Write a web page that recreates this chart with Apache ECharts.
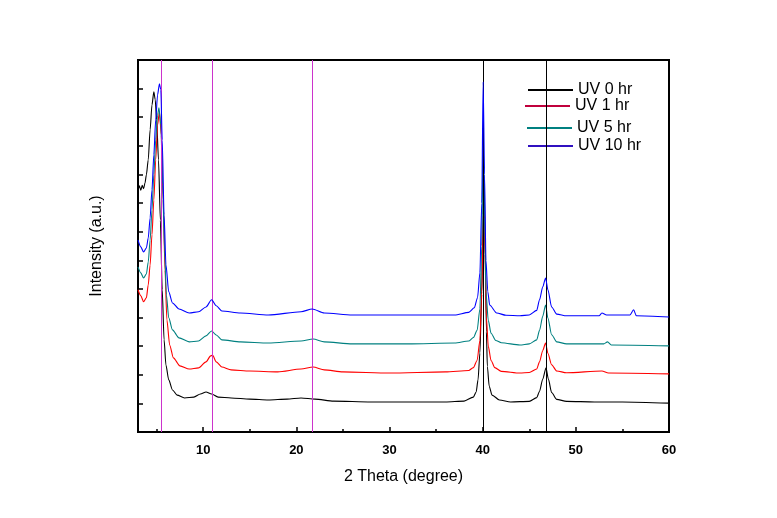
<!DOCTYPE html>
<html>
<head>
<meta charset="utf-8">
<script src="https://cdn.jsdelivr.net/npm/echarts@6/dist/echarts.min.js"></script>
<style>html,body{margin:0;padding:0;background:#fff}#c{width:777px;height:518px}</style>
</head>
<body>
<div id="c"></div>
<script>
// ---- data (2θ in degrees, intensity in arbitrary units) ----
const seriesNames = ['UV 0 hr', 'UV 1 hr', 'UV 5 hr', 'UV 10 hr'];
const seriesColors = ['#000000', '#ff0000', '#008080', '#0000ff'];
const xTickLabels = [10, 20, 30, 40, 50, 60];
const xMinorTicks = [5, 15, 25, 35, 45, 55];
const refLinesPink = [5.5, 11.0, 21.75];
const refLinesBlack = [40.05, 46.8];

const uv0 = [
  [3.0,8.46],[3.15,8.60],[3.3,8.45],[3.45,8.62],[3.6,8.50],[3.75,8.70],[3.9,8.99],[4.1,9.51],[4.3,10.56],[4.5,11.43],[4.7,11.89],
  [4.85,11.61],[5.0,10.91],[5.2,9.51],[5.4,7.41],[5.6,4.97],[5.8,3.22],[6.0,2.34],[6.3,1.82],[6.7,1.47],
  [7.2,1.29],[8.0,1.19],[9.0,1.22],[9.7,1.33],[10.3,1.40],[10.9,1.33],[11.6,1.22],[13,1.19],[15,1.15],
  [17,1.12],[19,1.15],[20.5,1.19],[22,1.15],[24,1.08],[28,1.05],[32,1.05],[36,1.05],[38,1.08],
  [39.0,1.22],[39.3,1.40],[39.5,1.82],[39.7,2.76],[39.9,4.8],[40.05,7.6],[40.15,8.81],[40.25,7.0],[40.4,3.5],
  [40.5,2.3],[40.7,1.6],[41.0,1.29],[41.8,1.12],[43,1.05],
  [45.0,1.07],[45.8,1.20],[46.1,1.42],[46.45,1.85],[46.8,2.24],[47.05,1.85],[47.4,1.38],[47.95,1.14],[49,1.07],
  [52,1.05],[55,1.05],[60,1.01]
];
const uv1 = [
  [3.0,4.97],[3.3,4.76],[3.6,4.55],[3.9,4.69],[4.1,5.14],[4.3,5.84],[4.5,6.89],[4.7,8.11],[4.9,9.51],[5.1,10.73],
  [5.3,11.19],[5.5,10.38],[5.7,8.11],[5.9,5.66],[6.1,3.92],[6.4,3.04],[6.8,2.59],[7.5,2.31],[8.5,2.20],[9.5,2.24],
  [10.3,2.45],[10.8,2.66],[11.0,2.69],[11.4,2.45],[12,2.27],[13,2.17],[15,2.13],[18,2.10],[20.5,2.20],[21.8,2.27],
  [23,2.17],[25,2.10],[30,2.06],[36,2.10],[38.5,2.15],[39.0,2.25],[39.4,2.50],[39.7,3.20],[39.9,4.90],[40.1,7.94],
  [40.25,6.20],[40.4,4.00],[40.6,3.00],[40.9,2.50],[41.3,2.25],[42,2.12],[44,2.06],
  [45.0,2.08],[45.8,2.20],[46.1,2.45],[46.45,2.85],[46.75,3.11],[47.0,2.75],[47.4,2.35],[47.95,2.13],[49,2.07],
  [52.8,2.13],[53.5,2.06],[60,2.03]
];
const uv5 = [
  [3.0,5.77],[3.3,5.56],[3.6,5.38],[3.9,5.52],[4.1,5.94],[4.3,6.71],[4.5,7.76],[4.7,8.99],[4.9,10.21],[5.1,11.08],
  [5.25,11.33],[5.45,10.73],[5.65,8.64],[5.85,6.36],[6.05,4.79],[6.3,3.99],[6.7,3.57],[7.4,3.29],[8.5,3.15],[9.5,3.18],
  [10.3,3.36],[10.9,3.53],[11.4,3.39],[12,3.22],[14,3.15],[17,3.11],[20.5,3.18],[21.8,3.25],[23,3.15],[26,3.08],
  [32,3.08],[37,3.11],[38.5,3.18],[39.0,3.30],[39.4,3.55],[39.7,4.30],[39.9,6.50],[40.05,10.31],[40.2,7.50],
  [40.35,4.90],[40.6,3.90],[40.9,3.45],[41.4,3.20],[42,3.12],[44,3.04],
  [45.0,3.08],[45.8,3.22],[46.1,3.55],[46.45,4.05],[46.75,4.44],[47.0,3.98],[47.4,3.40],[47.95,3.15],[49,3.08],
  [53.0,3.08],[53.4,3.15],[53.8,3.04],[60,3.01]
];
const uv10 = [
  [3.0,6.71],[3.3,6.47],[3.6,6.29],[3.9,6.43],[4.1,6.78],[4.3,7.48],[4.5,8.46],[4.7,9.69],[4.9,10.91],[5.1,11.78],
  [5.3,12.17],[5.45,11.96],[5.6,10.21],[5.8,7.59],[6.0,5.84],[6.3,4.90],[6.7,4.51],[7.4,4.30],[8.5,4.16],[9.5,4.20],
  [10.3,4.37],[10.9,4.62],[11.4,4.41],[12,4.23],[14,4.16],[17,4.09],[20.5,4.20],[21.7,4.30],[23,4.16],[26,4.09],
  [32,4.09],[37,4.09],[38.5,4.18],[39.1,4.34],[39.45,4.70],[39.7,5.56],[39.9,8.00],[40.05,12.24],[40.2,9.00],
  [40.35,6.00],[40.55,4.90],[40.75,4.44],[41.5,4.16],[42.5,4.08],[44,4.06],
  [45.0,4.09],[45.8,4.25],[46.1,4.62],[46.45,5.07],[46.75,5.38],[47.0,4.97],[47.4,4.37],[47.95,4.12],[49,4.06],
  [52.5,4.06],[52.8,4.16],[53.3,4.09],[55.8,4.09],[56.2,4.27],[56.5,4.06],[60,4.02]
];
const allData = [uv0, uv1, uv5, uv10];

// ---- chart ----
const FONT = 'Arial, "Liberation Sans", sans-serif';
const chart = echarts.init(document.getElementById('c'), null, {renderer: 'canvas'});

const legendRows = [
  {left: 528, top: 82, color: '#000000'},
  {left: 525, top: 98, color: '#c0003c'},
  {left: 527, top: 120, color: '#008080'},
  {left: 528, top: 138, color: '#3010c0'}
];

const series = allData.map((d, i) => ({
  name: seriesNames[i],
  type: 'line',
  data: d,
  showSymbol: false,
  symbol: 'none',
  smooth: 0.25,
  smoothMonotone: 'x',
  lineStyle: {width: 1.1, color: seriesColors[i]},
  itemStyle: {color: seriesColors[i]},
  z: 2 + i
}));
series[3].markLine = {
  silent: true,
  symbol: ['none', 'none'],
  label: {show: false},
  animation: false,
  data: refLinesPink.map(v => ({xAxis: v, lineStyle: {color: '#cc33cc', width: 1, type: 'solid'}}))
    .concat(refLinesBlack.map(v => ({xAxis: v, lineStyle: {color: '#000000', width: 1, type: 'solid'}})))
};

chart.setOption({
  animation: false,
  backgroundColor: '#ffffff',
  grid: {left: 138, right: 108, top: 60, bottom: 86, show: true, borderColor: '#000', borderWidth: 2},
  legend: legendRows.map((r, i) => ({
    data: [{name: seriesNames[i], itemStyle: {color: r.color}}],
    left: r.left, top: r.top, padding: 0,
    itemWidth: 45, itemHeight: 2, icon: 'rect',
    textStyle: {fontFamily: FONT, fontSize: 16, color: '#000'},
    selectedMode: false
  })),
  xAxis: [{
    type: 'value', min: 3, max: 60,
    axisLine: {show: true, lineStyle: {color: '#000', width: 2}},
    axisTick: {show: true, inside: true, length: 5, customValues: xTickLabels, lineStyle: {color: '#000', width: 1.5}},
    axisLabel: {show: true, customValues: xTickLabels, fontFamily: FONT, fontSize: 13, fontWeight: 'bold', color: '#000', margin: 12},
    splitLine: {show: false},
    name: '2 Theta (degree)', nameLocation: 'middle', nameGap: 37,
    nameTextStyle: {fontFamily: FONT, fontSize: 16, color: '#000'}
  }, {
    type: 'value', min: 3, max: 60, position: 'bottom',
    axisLine: {show: false},
    axisTick: {show: true, inside: true, length: 3, customValues: xMinorTicks, lineStyle: {color: '#000', width: 1.5}},
    axisLabel: {show: false},
    splitLine: {show: false}
  }],
  yAxis: {
    type: 'value', min: 0, max: 13, interval: 1,
    axisLine: {show: true, lineStyle: {color: '#000', width: 2}},
    axisTick: {show: true, inside: true, length: 5, lineStyle: {color: '#000', width: 1.5}},
    axisLabel: {show: false},
    splitLine: {show: false},
    name: 'Intensity (a.u.)', nameLocation: 'middle', nameGap: 33,
    nameTextStyle: {fontFamily: FONT, fontSize: 16, color: '#000'}
  },
  series: series
});
</script>
</body>
</html>
